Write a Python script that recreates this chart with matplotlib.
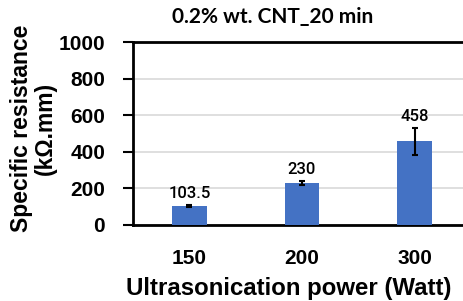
import matplotlib
matplotlib.use("Agg")
import matplotlib.pyplot as plt
import numpy as np

categories = ["150", "200", "300"]
values = [103.5, 230, 458]
errors = [5, 12, 73]
value_labels = ["103.5", "230", "458"]
yticks = [0, 200, 400, 600, 800, 1000]

plt.rcParams['font.family'] = ['Liberation Sans', 'DejaVu Sans']

fig = plt.figure(figsize=(4.64, 3.01), dpi=100)
ax = fig.add_axes([133/464, 1-225/301, (471-133)/464, (225-42)/301])

x = np.arange(len(categories))
ax.bar(x, values, width=0.31, color='#4472C4', zorder=3)
ax.errorbar(x, values, yerr=errors, fmt='none', ecolor='black', elinewidth=1.5,
            capsize=2.5, capthick=1.5, zorder=4)
for xi, v, e, lab in zip(x, values, errors, value_labels):
    ax.annotate(lab, (xi, v + e), xytext=(0, 3), textcoords='offset points',
                ha='center', va='bottom', fontsize=12, color='black',
                family=['Roboto', 'DejaVu Sans'], fontweight='medium')

ax.set_xlim(-0.5, 2.5)
ax.set_ylim(0, 1000)
ax.set_yticks(yticks)
ax.set_yticklabels([str(t) for t in yticks], fontsize=15, fontweight='bold')
ax.set_xticks(x)
ax.set_xticklabels(categories, fontsize=15, fontweight='bold')
ax.tick_params(axis='y', length=7, width=1.5, pad=13)
ax.tick_params(axis='x', length=0, pad=17)
ax.yaxis.grid(True, color='#D9D9D9', linewidth=1.2, zorder=0)
ax.set_axisbelow(True)
for s in ['left', 'bottom', 'top']:
    ax.spines[s].set_linewidth(2)
    ax.spines[s].set_color('black')
ax.spines['right'].set_visible(False)

fig.text(289/464, 1-288/301, "Ultrasonication power (Watt)", ha='center', va='center',
         fontsize=17.3, fontweight='bold')
fig.text(33/464, 1-128/301, "Specific resistance\n(kΩ.mm)", rotation=90, ha='center',
         va='center', fontsize=16.5, fontweight='bold', linespacing=1.05)
fig.text(273/464, 1-17/301, "0.2% wt. CNT_20 min", ha='center', va='center',
         fontsize=15, fontweight='bold', family=['Lato', 'DejaVu Sans'])

fig.savefig("out.png", dpi=100)
